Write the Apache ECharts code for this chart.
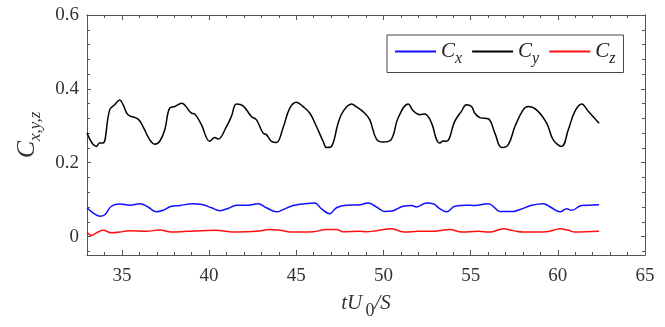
<!DOCTYPE html>
<html>
<head>
<meta charset="utf-8">
<script src="https://cdn.jsdelivr.net/npm/echarts@6/dist/echarts.min.js"></script>
<style>
    html, body { margin: 0; padding: 0; background: #fff; }
    #chart { width: 665px; height: 327px; }
</style>
</head>
<body>
<div id="chart"></div>
<script>
// time tU0/S and force coefficients
const cyT = [33.00, 33.54, 33.73, 33.92, 34.30, 34.59, 34.88, 35.07, 35.35, 35.93, 36.21, 36.60, 36.88, 37.17, 37.46, 37.74, 38.03, 38.42, 38.99, 39.18, 39.56, 40.04, 40.33, 40.52, 41.00, 41.28, 41.57, 41.95, 42.43, 42.72, 43.10, 43.29, 43.58, 43.87, 44.24, 44.63, 45.01, 45.39, 45.78, 46.16, 46.54, 46.74, 47.02, 47.40, 47.69, 48.17, 48.46, 48.93, 49.22, 49.60, 49.98, 50.46, 50.84, 51.42, 51.70, 52.09, 52.37, 52.76, 53.05, 53.24, 53.42, 53.62, 54.09, 54.47, 54.76, 55.05, 55.24, 55.53, 56.01, 56.39, 56.78, 57.16, 57.54, 58.01, 58.30, 58.78, 59.36, 59.74, 60.22, 60.60, 60.98, 61.37, 61.75, 62.37];
const cyV = [0.280, 0.244, 0.253, 0.253, 0.343, 0.357, 0.370, 0.357, 0.330, 0.318, 0.298, 0.262, 0.250, 0.258, 0.289, 0.348, 0.352, 0.361, 0.334, 0.332, 0.303, 0.258, 0.268, 0.264, 0.298, 0.325, 0.359, 0.354, 0.325, 0.316, 0.280, 0.276, 0.258, 0.255, 0.294, 0.348, 0.364, 0.352, 0.334, 0.298, 0.258, 0.241, 0.244, 0.307, 0.339, 0.359, 0.351, 0.334, 0.316, 0.264, 0.256, 0.264, 0.321, 0.359, 0.341, 0.330, 0.332, 0.307, 0.262, 0.253, 0.259, 0.258, 0.312, 0.339, 0.357, 0.352, 0.334, 0.322, 0.319, 0.280, 0.241, 0.249, 0.298, 0.343, 0.352, 0.343, 0.307, 0.262, 0.244, 0.289, 0.339, 0.359, 0.339, 0.307];

const cxT = [33.00, 33.34, 33.73, 34.02, 34.40, 34.88, 35.45, 36.03, 36.50, 36.98, 37.36, 37.84, 38.32, 39.08, 39.66, 40.14, 40.61, 41.09, 41.57, 42.24, 42.81, 43.29, 43.87, 44.24, 44.82, 45.49, 46.06, 46.45, 46.92, 47.31, 47.88, 48.65, 49.12, 49.60, 50.08, 50.56, 51.13, 51.61, 51.90, 52.47, 52.85, 53.24, 53.62, 54.09, 54.77, 55.24, 56.01, 56.29, 56.68, 57.44, 57.83, 58.50, 59.16, 59.64, 60.12, 60.51, 60.79, 61.36, 61.84, 62.37];
const cxV = [0.078, 0.064, 0.055, 0.059, 0.082, 0.088, 0.085, 0.089, 0.080, 0.067, 0.071, 0.082, 0.084, 0.089, 0.086, 0.078, 0.070, 0.076, 0.085, 0.085, 0.089, 0.078, 0.067, 0.073, 0.084, 0.089, 0.091, 0.075, 0.062, 0.078, 0.085, 0.086, 0.091, 0.080, 0.068, 0.070, 0.082, 0.084, 0.080, 0.091, 0.089, 0.075, 0.067, 0.082, 0.085, 0.084, 0.089, 0.082, 0.068, 0.068, 0.073, 0.085, 0.089, 0.078, 0.067, 0.075, 0.071, 0.084, 0.085, 0.086];

const czT = [33.00, 33.25, 33.54, 33.92, 34.40, 34.88, 35.45, 36.41, 37.17, 37.84, 38.70, 40.33, 41.57, 42.72, 43.48, 44.06, 44.82, 45.97, 46.74, 47.31, 47.69, 48.65, 49.03, 49.60, 50.46, 51.23, 51.99, 52.76, 53.81, 54.48, 55.43, 56.10, 56.87, 57.44, 58.01, 59.36, 60.12, 60.60, 60.98, 62.37];
const czV = [0.012, 0.003, 0.010, 0.017, 0.010, 0.012, 0.016, 0.014, 0.018, 0.012, 0.014, 0.017, 0.012, 0.014, 0.019, 0.017, 0.012, 0.013, 0.019, 0.019, 0.013, 0.014, 0.013, 0.016, 0.021, 0.012, 0.014, 0.014, 0.019, 0.012, 0.014, 0.012, 0.021, 0.016, 0.012, 0.013, 0.021, 0.017, 0.012, 0.014];

const xMajor = [35, 40, 45, 50, 55, 60, 65];
const xMinor = [33, 34, 36, 37, 38, 39, 41, 42, 43, 44, 46, 47, 48, 49, 51, 52, 53, 54, 56, 57, 58, 59, 61, 62, 63, 64];
const yMajor = [0, 0.2, 0.4, 0.6];
const yMinor = [-0.04, 0.04, 0.08, 0.12, 0.16, 0.24, 0.28, 0.32, 0.36, 0.44, 0.48, 0.52, 0.56];

const font = 'Liberation Serif';
const frame = '#555';

function pairs(t, v) {
    return t.map((x, i) => [x, v[i]]);
}

function xAxis(pos, ticks, len, labels) {
    return {
        type: 'value',
        position: pos,
        min: 33,
        max: 65,
        axisLine: { show: labels || pos === 'top', onZero: false, lineStyle: { color: frame, width: 1 } },
        axisTick: { show: true, inside: true, length: len, customValues: ticks, lineStyle: { color: frame } },
        axisLabel: labels ? {
            show: true,
            customValues: xMajor,
            margin: 12,
            color: '#333',
            fontSize: 19,
            fontFamily: font
        } : { show: false },
        splitLine: { show: false }
    };
}

function yAxis(pos, ticks, len, labels) {
    return {
        type: 'value',
        position: pos,
        min: -0.05,
        max: 0.6,
        axisLine: { show: labels || pos === 'right', onZero: false, lineStyle: { color: frame, width: 1 } },
        axisTick: { show: true, inside: true, length: len, customValues: ticks, lineStyle: { color: frame } },
        axisLabel: labels ? {
            show: true,
            customValues: yMajor,
            margin: 8,
            color: '#333',
            fontSize: 19,
            fontFamily: font,
            formatter: v => (v === 0 ? '0' : v.toFixed(1))
        } : { show: false },
        splitLine: { show: false }
    };
}

const xs = [
    xAxis('bottom', xMajor, 5, true),
    xAxis('bottom', xMinor, 3, false),
    xAxis('top', xMajor, 5, false),
    xAxis('top', xMinor, 3, false)
];
xs[0].name = '{i|tU} {s|0}{i|/S}';
xs[0].nameLocation = 'middle';
xs[0].nameGap = 31;
xs[0].nameTextStyle = {
    rich: {
        i: { fontFamily: font, fontStyle: 'italic', fontSize: 21, color: '#333' },
        s: { fontFamily: font, fontSize: 18, color: '#333', padding: [16, 0, 0, 0] }
    }
};

const ys = [
    yAxis('left', yMajor, 4, true),
    yAxis('left', yMinor, 3, false),
    yAxis('right', yMajor, 4, false),
    yAxis('right', yMinor, 3, false)
];
ys[0].name = '{c|C}{s|x,y,z}';
ys[0].nameLocation = 'middle';
ys[0].nameGap = 40;
ys[0].nameTextStyle = {
    rich: {
        c: { fontFamily: font, fontStyle: 'italic', fontSize: 26, color: '#333' },
        s: { fontFamily: font, fontStyle: 'italic', fontSize: 17, color: '#333', padding: [18, 0, 0, 0] }
    }
};

const legendNames = { Cx: '{c|C}{s|x}', Cy: '{c|C}{s|y}', Cz: '{c|C}{s|z}' };

const chart = echarts.init(document.getElementById('chart'));
chart.setOption({
    animation: false,
    grid: { left: 87, right: 20, top: 15, bottom: 72, outerBoundsMode: 'none' },
    legend: {
        left: 387,
        top: 35,
        data: ['Cx', 'Cy', 'Cz'],
        icon: 'rect',
        itemWidth: 41,
        itemHeight: 2,
        itemGap: 10,
        padding: [6, 8, 6, 8],
        borderColor: '#444',
        borderWidth: 1,
        borderRadius: 0,
        formatter: n => legendNames[n],
        textStyle: {
            rich: {
                c: { fontFamily: font, fontStyle: 'italic', fontSize: 21, color: '#222' },
                s: { fontFamily: font, fontStyle: 'italic', fontSize: 16, color: '#222', padding: [14, 0, 0, 0] }
            }
        }
    },
    xAxis: xs,
    yAxis: ys,
    series: [
        {
            name: 'Cx', type: 'line', data: pairs(cxT, cxV), smooth: 0.4, showSymbol: false,
            xAxisIndex: 0, yAxisIndex: 0,
            lineStyle: { color: '#1010ff', width: 1.5 }, itemStyle: { color: '#1010ff' }
        },
        {
            name: 'Cy', type: 'line', data: pairs(cyT, cyV), smooth: 0.4, showSymbol: false,
            xAxisIndex: 0, yAxisIndex: 0,
            lineStyle: { color: '#000', width: 1.5 }, itemStyle: { color: '#000' }
        },
        {
            name: 'Cz', type: 'line', data: pairs(czT, czV), smooth: 0.4, showSymbol: false,
            xAxisIndex: 0, yAxisIndex: 0,
            lineStyle: { color: '#ff1010', width: 1.5 }, itemStyle: { color: '#ff1010' }
        }
    ]
});
</script>
</body>
</html>
